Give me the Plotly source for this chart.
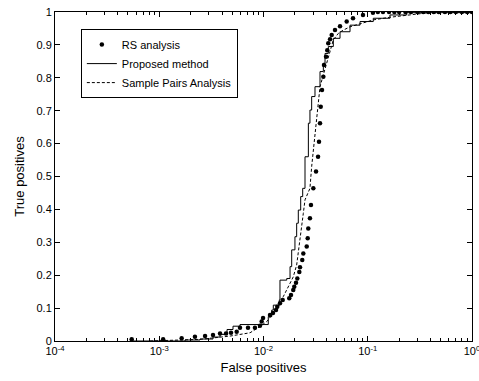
import plotly.graph_objects as go

# RS analysis (dots)
rs_fp = [5.44e-4, 1.09e-3, 1.64e-3, 2.20e-3, 2.75e-3, 3.28e-3, 3.83e-3, 4.37e-3, 4.88e-3, 5.53e-3,
         5.95e-3, 7.10e-3, 8.28e-3, 9.25e-3, 9.6e-3, 9.9e-3, 0.01154, 0.01233, 0.01318, 0.01355,
         0.01439, 0.01527, 0.01766, 0.01835, 0.0193, 0.01973, 0.0205, 0.0211, 0.02205, 0.02239,
         0.02355, 0.02409, 0.02597, 0.02655, 0.02688, 0.0279, 0.02853, 0.03006, 0.0319, 0.03336,
         0.03407, 0.03484, 0.03539, 0.03642, 0.0375, 0.03804, 0.0398, 0.0409, 0.0418, 0.0435,
         0.0451, 0.0485, 0.0542, 0.0628, 0.0722, 0.09, 0.1122, 0.125, 0.14, 0.16, 0.18, 0.2,
         0.23, 0.26, 0.3, 0.34, 0.38, 0.43, 0.48, 0.55, 0.62, 0.7, 0.8, 0.9, 1.0]
rs_tp = [0.005, 0.005, 0.008, 0.013, 0.015, 0.018, 0.023, 0.023, 0.025, 0.028,
         0.04, 0.04, 0.04, 0.046, 0.059, 0.07, 0.079, 0.085, 0.094, 0.104,
         0.115, 0.125, 0.13, 0.14, 0.155, 0.165, 0.177, 0.19, 0.21, 0.224,
         0.246, 0.266, 0.287, 0.312, 0.342, 0.373, 0.413, 0.464, 0.515, 0.56,
         0.606, 0.662, 0.712, 0.763, 0.803, 0.839, 0.864, 0.884, 0.905, 0.917,
         0.93, 0.945, 0.957, 0.971, 0.981, 0.991, 0.998, 1.0, 1.0, 1.0, 1.0, 1.0,
         1.0, 1.0, 1.0, 1.0, 1.0, 1.0, 1.0, 1.0, 1.0, 1.0, 1.0, 1.0, 1.0]

# Proposed method (solid, staircase)
pm_fp = [5.49e-4, 1.77e-3, 2.46e-3, 3.28e-3, 3.83e-3, 4.47e-3, 5.10e-3, 5.95e-3, 0.01033, 0.01111,
         0.01199, 0.01242, 0.01418, 0.01439, 0.01671, 0.01797, 0.01864, 0.02003, 0.0208, 0.02157,
         0.02274, 0.02377, 0.02501, 0.02694, 0.0279, 0.02897, 0.03118, 0.03484, 0.0375, 0.03892,
         0.04184, 0.04675, 0.0542, 0.0676, 0.0843, 0.113, 0.1633, 0.2364, 1.0]
pm_tp = [0.0, 0.003, 0.006, 0.012, 0.02, 0.035, 0.045, 0.05, 0.05, 0.074,
         0.094, 0.109, 0.125, 0.185, 0.19, 0.226, 0.277, 0.317, 0.358, 0.398,
         0.439, 0.464, 0.56, 0.662, 0.702, 0.743, 0.773, 0.819, 0.844, 0.874,
         0.895, 0.92, 0.94, 0.96, 0.971, 0.981, 0.991, 0.998, 1.0]

# Sample Pairs Analysis (dashed)
sp_fp = [8.15e-4, 2.46e-3, 4.78e-3, 7.43e-3, 9.25e-3, 0.01074, 0.01242, 0.01386, 0.01549, 0.01731,
         0.0193, 0.0208, 0.02157, 0.02239, 0.02323, 0.02409, 0.02501, 0.0279, 0.02897, 0.03048,
         0.0319, 0.03285, 0.03484, 0.0375, 0.0409, 0.0435, 0.04675, 0.0522, 0.0583, 0.0676,
         0.0843, 0.113, 0.1633, 0.2364, 0.341, 0.571, 1.0]
sp_tp = [0.0, 0.005, 0.015, 0.025, 0.044, 0.059, 0.084, 0.104, 0.135, 0.165,
         0.195, 0.231, 0.266, 0.307, 0.347, 0.388, 0.429, 0.464, 0.53, 0.601,
         0.662, 0.712, 0.773, 0.809, 0.854, 0.884, 0.915, 0.935, 0.945, 0.955,
         0.965, 0.976, 0.984, 0.991, 0.996, 0.999, 1.0]

series_names = ["RS analysis", "Proposed method", "Sample Pairs Analysis"]
y_ticks = [0, 0.1, 0.2, 0.3, 0.4, 0.5, 0.6, 0.7, 0.8, 0.9, 1]
x_ticks = [1e-4, 1e-3, 1e-2, 1e-1, 1e0]
x_ticklabels = ["10<sup>-4</sup>", "10<sup>-3</sup>", "10<sup>-2</sup>", "10<sup>-1</sup>", "10<sup>0</sup>"]

font = dict(family="Liberation Sans, Arial, sans-serif", size=11, color="black")

fig = go.Figure()
fig.add_trace(go.Scatter(x=rs_fp, y=rs_tp, mode="markers", name=series_names[0],
                         marker=dict(color="black", size=4.5, symbol="circle")))
fig.add_trace(go.Scatter(x=pm_fp, y=pm_tp, mode="lines", name=series_names[1],
                         line=dict(color="black", width=1, shape="hv")))
fig.add_trace(go.Scatter(x=sp_fp, y=sp_tp, mode="lines", name=series_names[2],
                         line=dict(color="black", width=1, dash="3px,2px")))

fig.update_layout(
    width=479, height=381,
    margin=dict(l=55, r=7, t=12, b=40),
    paper_bgcolor="white", plot_bgcolor="white",
    font=font,
    showlegend=True,
    legend=dict(x=0.062, y=0.948, xanchor="left", yanchor="top",
                bordercolor="black", borderwidth=1, bgcolor="white",
                font=dict(size=11), itemwidth=30, tracegroupgap=0),
)
fig.update_xaxes(
    type="log", range=[-4, 0], tickvals=x_ticks, ticktext=x_ticklabels,
    ticklabeloverflow="allow", automargin=False,
    showgrid=False, zeroline=False, showline=True, linecolor="black", linewidth=1,
    mirror="ticks", ticks="inside", ticklen=5, tickcolor="black",
    minor=dict(ticks="inside", ticklen=3, tickcolor="black", dtick="D1", showgrid=False),
    title=dict(text="False positives", standoff=6),
)
fig.update_yaxes(
    range=[0, 1], tickvals=y_ticks, automargin=False,
    showgrid=False, zeroline=False, showline=True, linecolor="black", linewidth=1,
    mirror="ticks", ticks="inside", ticklen=5, tickcolor="black",
    title=dict(text="True positives", standoff=8),
)

fig.write_html("out.html")
